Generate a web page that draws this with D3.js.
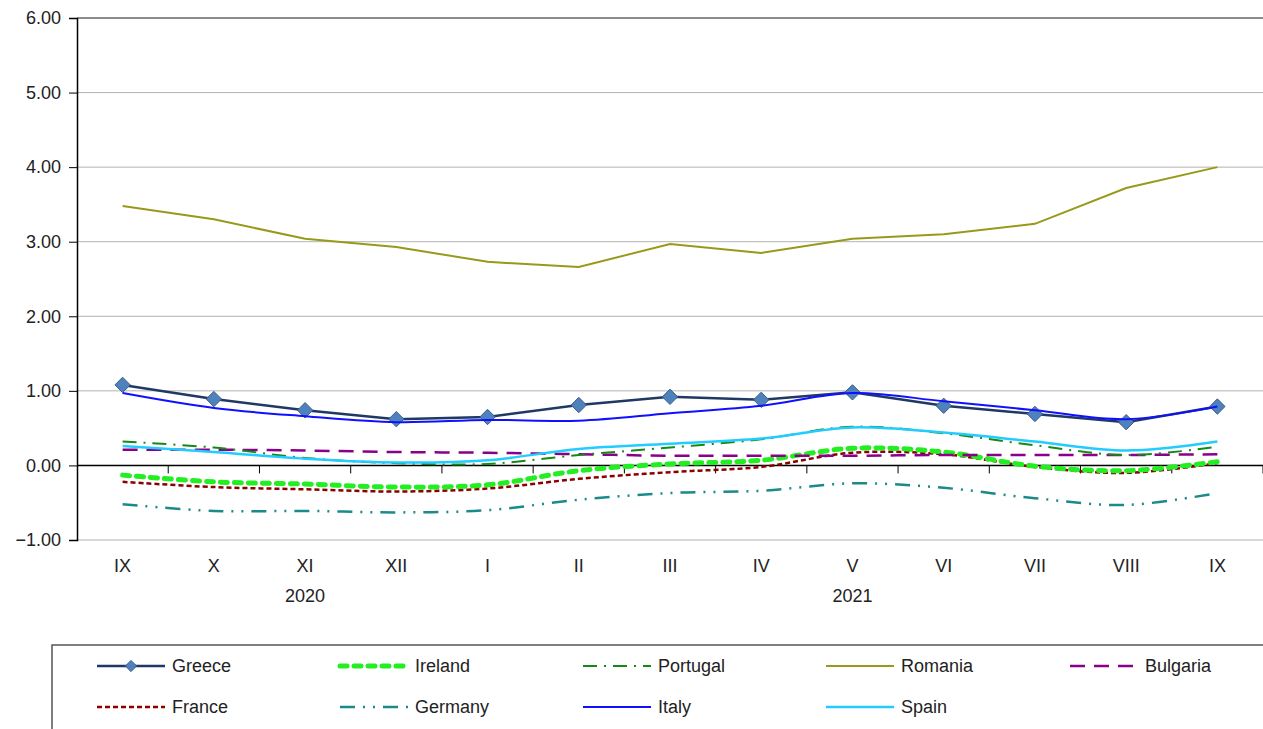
<!DOCTYPE html>
<html>
<head>
<meta charset="utf-8">
<script src="https://cdn.jsdelivr.net/npm/d3@7"></script>
<style>
  body { margin: 0; background: #fff; }
  svg text { font-family: "Liberation Sans", Arial, sans-serif; }
</style>
</head>
<body>
<div id="block"></div>
<script>
// data
var months = ["IX", "X", "XI", "XII", "I", "II", "III", "IV", "V", "VI", "VII", "VIII", "IX"];
var years = [{label: "2020", at: 2}, {label: "2021", at: 8}];
var yTicks = [-1, 0, 1, 2, 3, 4, 5, 6];

var greece   = [1.08, 0.89, 0.74, 0.62, 0.65, 0.81, 0.92, 0.88, 0.98, 0.80, 0.69, 0.58, 0.79];
var ireland  = [-0.13, -0.22, -0.25, -0.29, -0.26, -0.07, 0.02, 0.07, 0.23, 0.18, -0.01, -0.07, 0.05];
var portugal = [0.32, 0.24, 0.10, 0.03, 0.02, 0.14, 0.24, 0.35, 0.52, 0.43, 0.27, 0.14, 0.25];
var romania  = [3.48, 3.30, 3.04, 2.93, 2.73, 2.66, 2.97, 2.85, 3.04, 3.10, 3.24, 3.72, 4.00];
var bulgaria = [0.21, 0.21, 0.20, 0.18, 0.17, 0.15, 0.13, 0.13, 0.13, 0.14, 0.14, 0.14, 0.15];
var france   = [-0.22, -0.29, -0.32, -0.35, -0.31, -0.18, -0.09, -0.02, 0.17, 0.15, -0.02, -0.10, 0.03];
var germany  = [-0.52, -0.61, -0.61, -0.63, -0.60, -0.46, -0.37, -0.34, -0.24, -0.30, -0.44, -0.53, -0.37];
var italy    = [0.97, 0.77, 0.66, 0.58, 0.61, 0.60, 0.70, 0.80, 0.97, 0.86, 0.74, 0.62, 0.79];
var spain    = [0.26, 0.18, 0.09, 0.04, 0.07, 0.22, 0.29, 0.36, 0.51, 0.44, 0.32, 0.20, 0.32];

var series = [
  {name: "Greece",   values: greece,   color: "#1f3864", width: 2.5, dash: null, marker: true, smooth: false},
  {name: "Ireland",  values: ireland,  color: "#22ee22", width: 5,   dash: "7,7", cap: "round", smooth: true},
  {name: "Portugal", values: portugal, color: "#138a13", width: 2,   dash: "14,7,2,7", smooth: true},
  {name: "Romania",  values: romania,  color: "#999919", width: 2,   dash: null, smooth: false},
  {name: "Bulgaria", values: bulgaria, color: "#8b008b", width: 2.5, dash: "15,9", smooth: true},
  {name: "France",   values: france,   color: "#8b0000", width: 2.5, dash: "5,3", smooth: true},
  {name: "Germany",  values: germany,  color: "#1a8a8a", width: 2.5, dash: "15,8,2,8,2,8", smooth: true},
  {name: "Italy",    values: italy,    color: "#1010ff", width: 2,   dash: null, smooth: true},
  {name: "Spain",    values: spain,    color: "#22ccff", width: 2.5, dash: null, smooth: true}
];

// dimensions
var svg_dx = 1263, svg_dy = 729;
var plot = {left: 77, right: 1263, top: 18, bottom: 540};

var svg = d3.select("#block")
            .append("svg")
            .attr("width", svg_dx)
            .attr("height", svg_dy);

var xScale = d3.scaleBand()
               .domain(d3.range(months.length))
               .range([plot.left, plot.right]);

var yScale = d3.scaleLinear()
               .domain([-1, 6])
               .range([plot.bottom, plot.top]);

var cx = function(i) { return xScale(i) + xScale.bandwidth() / 2; };

// grid
svg.append("g")
   .selectAll("line")
   .data(yTicks)
   .enter()
   .append("line")
   .attr("x1", plot.left)
   .attr("x2", plot.right)
   .attr("y1", function(d) { return yScale(d); })
   .attr("y2", function(d) { return yScale(d); })
   .attr("stroke", function(d) { return d === 6 ? "#666" : "#b3b3b3"; })
   .attr("stroke-width", function(d) { return d === 6 ? 1.5 : 1; });

// y-axis
var yAxis = d3.axisLeft(yScale)
              .tickValues(yTicks)
              .tickFormat(d3.format(".2f"))
              .tickSize(8)
              .tickPadding(8);

var y_axis = svg.append("g")
                .attr("transform", "translate(" + plot.left + ",0)")
                .call(yAxis);
y_axis.select(".domain").attr("stroke", "#000").attr("stroke-width", 1.5);
y_axis.selectAll(".tick line").attr("stroke", "#000");
y_axis.selectAll("text")
      .attr("font-size", 18)
      .attr("fill", "#222")
      .attr("font-family", "Liberation Sans, Arial, sans-serif");

// x-axis along zero line, ticks at category boundaries
var y0 = yScale(0);
svg.append("line")
   .attr("x1", plot.left).attr("x2", plot.right)
   .attr("y1", y0).attr("y2", y0)
   .attr("stroke", "#000").attr("stroke-width", 1.5);

svg.append("g")
   .selectAll("line")
   .data(d3.range(1, months.length + 1))
   .enter()
   .append("line")
   .attr("x1", function(i) { return xScale.step() * i + plot.left; })
   .attr("x2", function(i) { return xScale.step() * i + plot.left; })
   .attr("y1", y0).attr("y2", y0 + 8)
   .attr("stroke", "#000");

svg.append("g")
   .selectAll("text")
   .data(months)
   .enter()
   .append("text")
   .attr("x", function(d, i) { return cx(i); })
   .attr("y", 572)
   .attr("text-anchor", "middle")
   .attr("font-size", 18)
   .attr("fill", "#222")
   .text(function(d) { return d; });

svg.append("g")
   .selectAll("text")
   .data(years)
   .enter()
   .append("text")
   .attr("x", function(d) { return cx(d.at); })
   .attr("y", 602)
   .attr("text-anchor", "middle")
   .attr("font-size", 18)
   .attr("fill", "#222")
   .text(function(d) { return d.label; });

// lines
var lineFor = function(s) {
  return d3.line()
           .x(function(d, i) { return cx(i); })
           .y(function(d) { return yScale(d); })
           .curve(s.smooth ? d3.curveCatmullRom.alpha(0.5) : d3.curveLinear);
};

var drawOrder = ["Germany", "France", "Ireland", "Bulgaria", "Portugal", "Spain", "Romania", "Greece", "Italy"];
drawOrder.forEach(function(name) {
  var s = series.find(function(d) { return d.name === name; });
  svg.append("path")
     .datum(s.values)
     .attr("d", lineFor(s))
     .attr("fill", "none")
     .attr("stroke", s.color)
     .attr("stroke-width", s.width)
     .attr("stroke-dasharray", s.dash)
     .attr("stroke-linecap", s.cap || "butt");
  if (s.marker) {
    svg.append("g")
       .selectAll("path")
       .data(s.values)
       .enter()
       .append("path")
       .attr("d", d3.symbol().type(d3.symbolDiamond2).size(150))
       .attr("transform", function(d, i) { return "translate(" + cx(i) + "," + yScale(d) + ")"; })
       .attr("fill", "#4f81bd")
       .attr("stroke", "#385d8a")
       .attr("stroke-width", 1);
  }
});

// legend
var legend = svg.append("g");
legend.append("rect")
      .attr("x", 52).attr("y", 645)
      .attr("width", 1230).attr("height", 100)
      .attr("fill", "#fff")
      .attr("stroke", "#555")
      .attr("stroke-width", 1.5);

var colX = [97, 340, 583, 826, 1070];
var rowY = [666, 707];

series.forEach(function(s, k) {
  var gx = colX[k % 5], gy = rowY[Math.floor(k / 5)];
  var g = legend.append("g").attr("transform", "translate(" + gx + "," + gy + ")");
  g.append("line")
   .attr("x1", 0).attr("x2", 68)
   .attr("y1", 0).attr("y2", 0)
   .attr("stroke", s.color)
   .attr("stroke-width", s.width)
   .attr("stroke-dasharray", s.dash)
   .attr("stroke-linecap", s.cap || "butt");
  if (s.marker) {
    g.append("path")
     .attr("d", d3.symbol().type(d3.symbolDiamond2).size(80))
     .attr("transform", "translate(34,0)")
     .attr("fill", "#4f81bd")
     .attr("stroke", "#385d8a");
  }
  g.append("text")
   .attr("x", s.name === "Portugal" ? 75 : 75)
   .attr("y", 6)
   .attr("font-size", 18)
   .attr("fill", "#222")
   .text(s.name);
});
</script>
</body>
</html>
